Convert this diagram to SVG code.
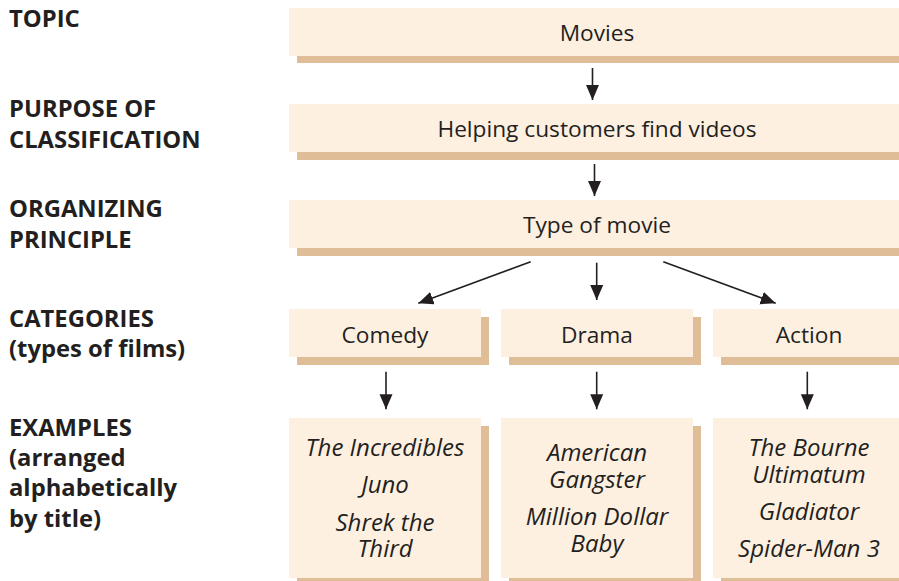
<svg xmlns="http://www.w3.org/2000/svg" width="899" height="581" viewBox="0 0 899 581">
<style>
.sh{fill:#dfbd96}
.bx{fill:#fdf0e1}
.lbl{font-family:"Open Sans","Noto Sans",sans-serif;font-weight:bold;font-size:23.8px;fill:#231f20}
.t{font-family:"Open Sans","Noto Sans",sans-serif;font-size:22.7px;fill:#231f20;text-anchor:middle}
.it{font-family:"Open Sans","Noto Sans",sans-serif;font-style:italic;font-size:24px;fill:#231f20;text-anchor:middle}
.ar{stroke:#231f20;stroke-width:1.6;fill:none;marker-end:url(#ah)}
</style>
<defs>
<marker id="ah" markerUnits="userSpaceOnUse" markerWidth="16" markerHeight="14" refX="15" refY="6.5" orient="auto">
<path d="M0,0 L15,6.5 L0,13 Z" fill="#231f20"/>
</marker>
</defs>
<rect width="899" height="581" fill="#ffffff"/>
<g id="labels">
<text class="lbl" x="9" y="27">TOPIC</text>
<text class="lbl" x="9" y="117">PURPOSE OF</text>
<text class="lbl" x="9" y="148">CLASSIFICATION</text>
<text class="lbl" x="9" y="217">ORGANIZING</text>
<text class="lbl" x="9" y="248">PRINCIPLE</text>
<text class="lbl" x="9" y="327">CATEGORIES</text>
<text class="lbl" x="9" y="357">(types of films)</text>
<text class="lbl" x="9" y="436">EXAMPLES</text>
<text class="lbl" x="9" y="466">(arranged</text>
<text class="lbl" x="9" y="496">alphabetically</text>
<text class="lbl" x="9" y="527">by title)</text>
</g>
<g id="topic">
<rect class="sh" x="297" y="16" width="616" height="47"/>
<rect class="bx" x="289" y="8" width="616" height="48"/>
<text class="t" x="597" y="41">Movies</text>
</g>
<g id="purpose">
<rect class="sh" x="297" y="112" width="616" height="48"/>
<rect class="bx" x="289" y="104" width="616" height="48"/>
<text class="t" x="597" y="137">Helping customers find videos</text>
</g>
<g id="principle">
<rect class="sh" x="297" y="208" width="616" height="48"/>
<rect class="bx" x="289" y="200" width="616" height="48"/>
<text class="t" x="597" y="233">Type of movie</text>
</g>
<g id="comedy">
<rect class="sh" x="297" y="317" width="192" height="48"/>
<rect class="bx" x="289" y="309" width="192" height="48"/>
<text class="t" x="385" y="343">Comedy</text>
</g>
<g id="drama">
<rect class="sh" x="509" y="317" width="192" height="48"/>
<rect class="bx" x="501" y="309" width="192" height="48"/>
<text class="t" x="597" y="343">Drama</text>
</g>
<g id="action">
<rect class="sh" x="721" y="317" width="192" height="48"/>
<rect class="bx" x="713" y="309" width="192" height="48"/>
<text class="t" x="809" y="343">Action</text>
</g>
<g id="comedy-examples">
<rect class="sh" x="297" y="426" width="192" height="160"/>
<rect class="bx" x="289" y="418" width="192" height="160"/>
<text class="it" x="385" y="456">The Incredibles</text>
<text class="it" x="385" y="493">Juno</text>
<text class="it" x="385" y="531">Shrek the</text>
<text class="it" x="385" y="557">Third</text>
</g>
<g id="drama-examples">
<rect class="sh" x="509" y="426" width="192" height="160"/>
<rect class="bx" x="501" y="418" width="192" height="160"/>
<text class="it" x="597" y="461">American</text>
<text class="it" x="597" y="488">Gangster</text>
<text class="it" x="597" y="525">Million Dollar</text>
<text class="it" x="597" y="552">Baby</text>
</g>
<g id="action-examples">
<rect class="sh" x="721" y="426" width="192" height="160"/>
<rect class="bx" x="713" y="418" width="192" height="160"/>
<text class="it" x="809" y="456">The Bourne</text>
<text class="it" x="809" y="483">Ultimatum</text>
<text class="it" x="809" y="520">Gladiator</text>
<text class="it" x="809" y="557">Spider-Man 3</text>
</g>
<g id="connectors">
<line class="ar" x1="592.5" y1="68" x2="592.5" y2="100"/>
<line class="ar" x1="594.5" y1="164" x2="594.5" y2="196"/>
<line class="ar" x1="530.7" y1="261.7" x2="418.3" y2="303.3"/>
<line class="ar" x1="596.7" y1="262.7" x2="596.7" y2="300"/>
<line class="ar" x1="663.3" y1="261.7" x2="775.7" y2="303.3"/>
<line class="ar" x1="386" y1="371.7" x2="386" y2="409.3"/>
<line class="ar" x1="596.7" y1="371.7" x2="596.7" y2="409.3"/>
<line class="ar" x1="807.3" y1="371.7" x2="807.3" y2="409.3"/>
</g>
</svg>
